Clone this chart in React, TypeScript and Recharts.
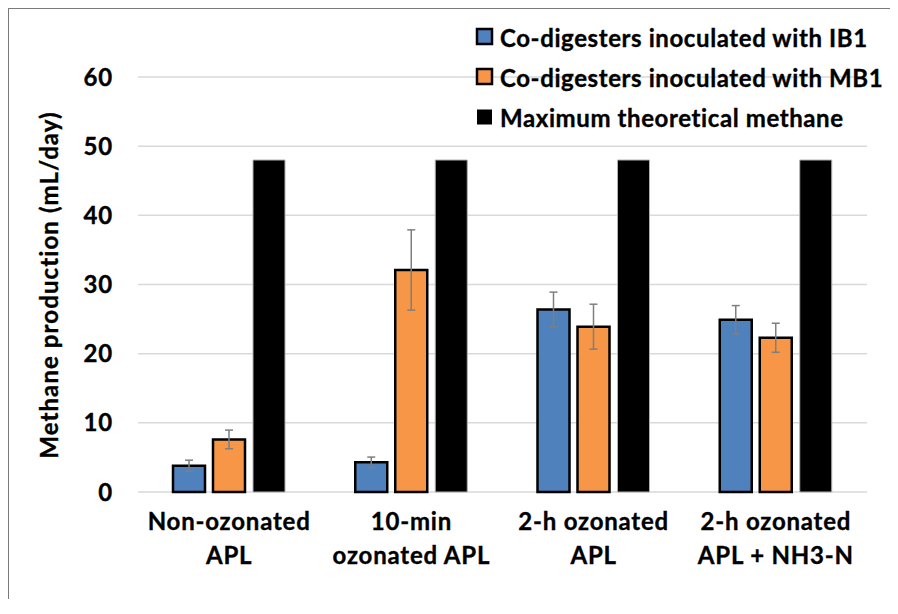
import React from 'react';
import { BarChart, Bar, XAxis, YAxis, CartesianGrid, Legend, ErrorBar } from 'recharts';

const categories = ['Non-ozonated\nAPL', '10-min\nozonated APL', '2-h ozonated\nAPL', '2-h ozonated\nAPL + NH3-N'];
const ib1Values = [3.8, 4.3, 26.4, 24.9];
const ib1Errors = [0.8, 0.75, 2.5, 2.05];
const mb1Values = [7.6, 32.1, 23.9, 22.3];
const mb1Errors = [1.35, 5.8, 3.25, 2.1];
const maxTheoretical = [48, 48, 48, 48];
const yTicks = [0, 10, 20, 30, 40, 50, 60];

const seriesNames = {
    ib1: 'Co-digesters inoculated with IB1',
    mb1: 'Co-digesters inoculated with MB1',
    max: 'Maximum theoretical methane',
};

const data = categories.map((name, i) => ({
    name,
    ib1: ib1Values[i],
    ib1Err: ib1Errors[i],
    mb1: mb1Values[i],
    mb1Err: mb1Errors[i],
    max: maxTheoretical[i],
}));

const FONT = 'Lato, "Open Sans", sans-serif';

// a thin outline on the glyphs makes the bold text a touch heavier
const heavyText = { fontFamily: FONT, fontWeight: 700, fill: '#000', stroke: '#000', strokeWidth: 0.35 };

const legendItems = [
    { name: seriesNames.ib1, fill: '#4f81bd', stroke: '#000', strokeWidth: 2.5 },
    { name: seriesNames.mb1, fill: '#f79646', stroke: '#000', strokeWidth: 2.5 },
    { name: seriesNames.max, fill: '#000', stroke: '#000', strokeWidth: 0 },
];

const renderLegend = () => (
    <div
        style={{
            fontFamily: FONT,
            fontWeight: 700,
            fontSize: 24,
            letterSpacing: 0.6,
            color: '#000',
            WebkitTextStroke: '0.35px #000',
            whiteSpace: 'nowrap',
        }}
    >
        {legendItems.map((item) => (
            <div key={item.name} style={{ display: 'flex', alignItems: 'center', height: 40 }}>
                <svg width={20} height={20} style={{ marginRight: 5 }}>
                    {item.strokeWidth > 0 ? (
                        <rect x={2} y={2} width={15} height={15} fill={item.fill} stroke={item.stroke} strokeWidth={item.strokeWidth} />
                    ) : (
                        <rect x={2} y={2.5} width={15} height={15} fill={item.fill} />
                    )}
                </svg>
                <span>{item.name}</span>
            </div>
        ))}
    </div>
);

const CategoryTick = (props: any) => {
    const { x, y, payload } = props;
    const lines = String(payload.value).split('\n');
    return (
        <text x={x} y={y} textAnchor="middle" fontSize={24} letterSpacing={0.8} {...heavyText}>
            {lines.map((line, i) => (
                <tspan key={i} x={x} dy={i === 0 ? 30 : 34}>
                    {line}
                </tspan>
            ))}
        </text>
    );
};

const YTitle = () => (
    <text
        x={39}
        y={276}
        transform="rotate(-90 39 276)"
        textAnchor="middle"
        dominantBaseline="central"
        fontSize={24}
        letterSpacing={1.1}
        {...heavyText}
    >
        Methane production (mL/day)
    </text>
);

export default function App() {
    return (
        <div style={{ borderLeft: '1px solid #7a7a7a', borderTop: '1px solid #7a7a7a', width: 889, height: 590 }}>
            <BarChart
                width={889}
                height={590}
                data={data}
                margin={{ top: 68, right: 31, left: 0, bottom: 27 }}
                barSize={32}
                barGap={8}
            >
                <CartesianGrid vertical={false} stroke="#d9d9d9" strokeWidth={1.5} />
                <XAxis
                    dataKey="name"
                    axisLine={false}
                    tickLine={false}
                    height={80}
                    interval={0}
                    tick={<CategoryTick />}
                />
                <YAxis
                    width={129}
                    domain={[0, 60]}
                    ticks={yTicks}
                    axisLine={false}
                    tickLine={false}
                    tickSize={0}
                    tickMargin={25}
                    tick={{ ...heavyText, fontSize: 24, letterSpacing: 0.8 }}
                    label={{ content: () => <YTitle /> }}
                />
                <Legend
                    layout="horizontal"
                    verticalAlign="middle"
                    align="center"
                    content={renderLegend}
                    wrapperStyle={{ top: 8, left: 466, width: 420 }}
                />
                <Bar dataKey="ib1" name={seriesNames.ib1} fill="#4f81bd" stroke="#000" strokeWidth={2.5} isAnimationActive={false}>
                    <ErrorBar dataKey="ib1Err" width={4} stroke="#7f7f7f" strokeWidth={1.5} />
                </Bar>
                <Bar dataKey="mb1" name={seriesNames.mb1} fill="#f79646" stroke="#000" strokeWidth={2.5} isAnimationActive={false}>
                    <ErrorBar dataKey="mb1Err" width={4} stroke="#7f7f7f" strokeWidth={1.5} />
                </Bar>
                <Bar dataKey="max" name={seriesNames.max} fill="#000" stroke="#b0b0b0" strokeWidth={1} isAnimationActive={false} />
            </BarChart>
        </div>
    );
}
